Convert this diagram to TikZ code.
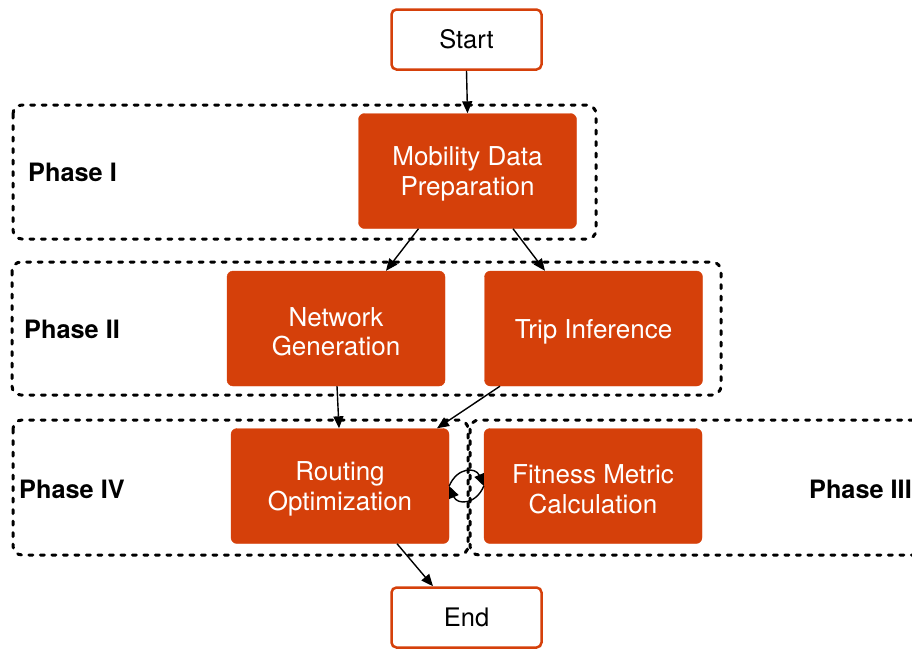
\documentclass[tikz,border=0pt]{standalone}
\usepackage{fontspec}
\setmainfont{TeX Gyre Heros}
\usetikzlibrary{arrows.meta}
\definecolor{rust}{RGB}{213,64,10}
\begin{document}
\begin{tikzpicture}[x=1pt,y=-1pt,
  procbox/.style={fill=rust,draw=rust,rounded corners=6pt,
    minimum width=218pt,minimum height=115pt,inner sep=0pt},
  proctext/.style={text=white,align=center,inner sep=0pt,
    font=\fontsize{26}{29.5}\selectfont},
  term/.style={fill=white,draw=rust,line width=2.5pt,rounded corners=5pt,
    minimum width=150pt,minimum height=60pt,inner sep=0pt,
    font=\fontsize{25.5}{29}\selectfont},
  phase/.style={draw=black,line width=3pt,dash pattern=on 4pt off 7.5pt,
    line cap=round,rounded corners=9pt},
  phaselabel/.style={font=\fontsize{25.3}{29}\selectfont\bfseries,inner sep=0pt},
  arr/.style={draw=black,line width=1.4pt,-{Triangle[length=12pt,width=10pt]}}]

\useasboundingbox (0,0) rectangle (912,649);

% dotted phase frames
\draw[phase] (13,105) rectangle (596,239);
\draw[phase] (12,262) rectangle (721,395);
\draw[phase] (13,420) rectangle (468,555);
\draw[phase] (470,420) rectangle (935,555);

% phase labels
\node[phaselabel,anchor=west] (lab1) at (28,172) {Phase I};
\node[phaselabel,anchor=west] (lab2) at (24,329) {Phase II};
\node[phaselabel,anchor=west] (lab4) at (19,489) {Phase IV};
\node[phaselabel,anchor=east] (lab3) at (912,489) {Phase III};

% terminals
\node[term] (start) at (466.5,39.5) {Start};
\node[term] (end) at (466.5,617.5) {End};

% processing steps: filled box plus its caption
\node[procbox] (mob) at (467.5,171) {};
\node[procbox] (net) at (336,328.5) {};
\node[procbox] (trip) at (593.5,328.5) {};
\node[procbox] (rout) at (340,486) {};
\node[procbox] (fit) at (593,486) {};
\node[proctext] (mobt) at ([yshift=-3pt]mob.center) {Mobility Data\\Preparation};
\node[proctext] (nett) at ([yshift=-3pt]net.center) {Network\\Generation};
\node[proctext] (tript) at ([yshift=-3pt]trip.center) {Trip Inference};
\node[proctext] (routt) at ([yshift=-3pt]rout.center) {Routing\\Optimization};
\node[proctext] (fitt) at ([yshift=-3pt]fit.center) {Fitness Metric\\Calculation};

% flow
\draw[arr] (start.south) -- (mob.north);
\draw[arr] ([xshift=-49pt]mob.south) -- ([xshift=50pt]net.north);
\draw[arr] ([xshift=45.5pt]mob.south) -- ([xshift=-48.5pt]trip.north);
\draw[arr] ([xshift=1pt]net.south) -- ([xshift=-1pt]rout.north);
\draw[arr] ([xshift=-93.5pt]trip.south) -- ([xshift=97pt]rout.north);
\draw[arr] ([xshift=57pt]rout.south) -- ([xshift=-33.5pt]end.north);

% feedback loop between optimization and fitness evaluation
\draw[arr] (rout.east) .. controls ([shift={(8,-19)}]rout.east) and ([shift={(-8,-19)}]fit.west) .. (fit.west);
\draw[arr] (fit.west) .. controls ([shift={(-8,19)}]fit.west) and ([shift={(8,19)}]rout.east) .. (rout.east);
\end{tikzpicture}
\end{document}
